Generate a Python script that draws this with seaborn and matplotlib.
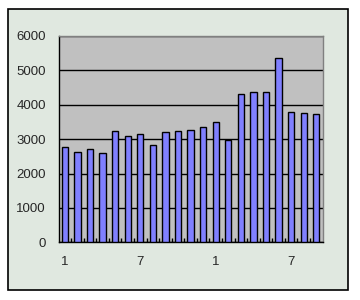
import matplotlib
matplotlib.use("Agg")
import matplotlib.pyplot as plt
import seaborn as sns
import pandas as pd
from matplotlib.patches import Rectangle
from matplotlib.ticker import FixedLocator

months = [1, 2, 3, 4, 5, 6, 7, 8, 9, 10, 11, 12, 1, 2, 3, 4, 5, 6, 7, 8, 9]
values = [2760, 2620, 2700, 2590, 3230, 3080, 3140, 2820, 3200, 3230, 3260,
          3340, 3490, 2970, 4300, 4360, 4360, 5350, 3780, 3750, 3720]
yticks = [0, 1000, 2000, 3000, 4000, 5000, 6000]

sns.set_style("white")
plt.rcParams['font.family'] = ['Liberation Sans', 'DejaVu Sans']

W, H = 360, 300
fig = plt.figure(figsize=(W / 100, H / 100), dpi=100)
fig.patch.set_facecolor('white')

bg = fig.add_axes([0, 0, 1, 1], zorder=0)
bg.set_xlim(0, W)
bg.set_ylim(H, 0)
bg.axis('off')
bg.add_patch(Rectangle((7.5, 9), 340, 281, facecolor='#E0E8E0',
                       edgecolor='black', linewidth=1.2))

ax = fig.add_axes([58.5 / W, 1 - 242.3 / H, (322.5 - 58.5) / W, (242.3 - 36) / H], zorder=2)
ax.set_facecolor('#C0C0C0')

df = pd.DataFrame({'idx': list(range(len(values))), 'value': values})
sns.barplot(data=df, x='idx', y='value', color='#8080FF', saturation=1,
            edgecolor='black', linewidth=1, width=0.5, ax=ax, zorder=3)

ax.set_ylim(0, 6000)
ax.set_xlim(-0.5, len(values) - 0.5)
ax.set_yticks(yticks)
ax.set_yticklabels([str(v) for v in yticks], fontsize=9.5)
ax.yaxis.grid(True, color='black', linewidth=1)
ax.set_axisbelow(True)
ax.tick_params(axis='y', direction='out', length=3, width=1, color='black', pad=6)

pos = [0, 6, 12, 18]
ax.set_xticks(pos)
ax.set_xticklabels([str(months[p]) for p in pos], fontsize=9.5)
ax.tick_params(axis='x', which='major', length=0, pad=10)
ax.xaxis.set_minor_locator(FixedLocator([i + 0.5 for i in range(len(values) - 1)]))
ax.tick_params(axis='x', which='minor', direction='in', length=3, width=1, color='black', bottom=True)

ax.set_xlabel('')
ax.set_ylabel('')
for s in ['top', 'right']:
    ax.spines[s].set_color('#808080')
    ax.spines[s].set_linewidth(1)
for s in ['left', 'bottom']:
    ax.spines[s].set_color('black')
    ax.spines[s].set_linewidth(1)
    ax.spines[s].set_visible(True)

fig.savefig('out.png', dpi=100)
